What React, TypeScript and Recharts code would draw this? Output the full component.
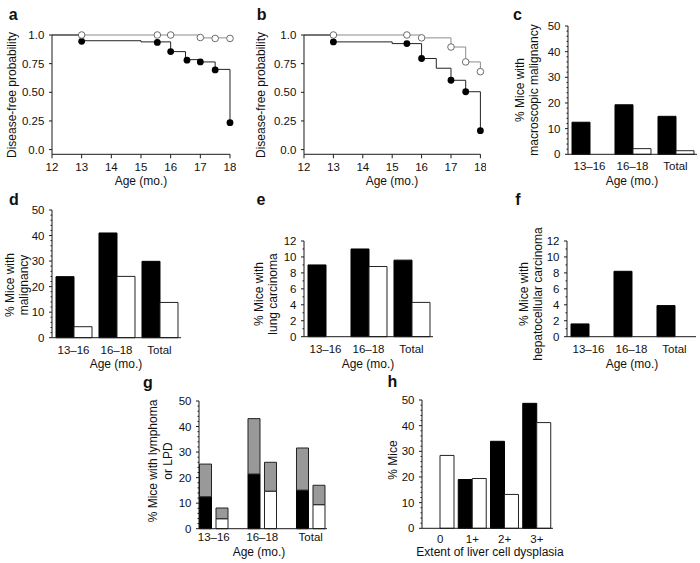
import React from 'react';
import { ComposedChart, Line, Scatter, XAxis, YAxis, BarChart, Bar } from 'recharts';

const FONT = '"Liberation Sans", Arial, sans-serif';
const INK = '#1a1a1a';

// a, b: disease-free probability (Kaplan-Meier steps + censor marks)
const ageTicks = [12, 13, 14, 15, 16, 17, 18];
const probTicks = [0, 0.25, 0.5, 0.75, 1];

const aBlackStepAge = [12, 13, 15, 16, 16.5, 17, 17.5, 18];
const aBlackStepP = [1, 0.95, 0.94, 0.855, 0.785, 0.765, 0.7, 0.235];
const aBlackDotAge = [13, 15.55, 16, 16.55, 17, 17.5, 18];
const aBlackDotP = [0.945, 0.935, 0.855, 0.78, 0.765, 0.695, 0.235];
const aWhiteStepAge = [12, 17, 18];
const aWhiteStepP = [1, 0.975, 0.97];
const aWhiteDotAge = [13, 15.55, 16, 17, 17.5, 18];
const aWhiteDotP = [1, 1, 1, 0.978, 0.97, 0.97];

const bBlackStepAge = [12, 13, 15, 16, 16.5, 17, 17.5, 18];
const bBlackStepP = [1, 0.94, 0.925, 0.795, 0.71, 0.605, 0.505, 0.165];
const bBlackDotAge = [13, 15.5, 16, 17, 17.5, 18];
const bBlackDotP = [0.94, 0.925, 0.795, 0.605, 0.505, 0.165];
const bWhiteStepAge = [12, 16, 17, 17.5, 18];
const bWhiteStepP = [1, 0.975, 0.895, 0.765, 0.68];
const bWhiteDotAge = [13, 15.5, 16, 17, 17.5, 18];
const bWhiteDotP = [1, 1, 0.975, 0.895, 0.765, 0.68];

// c-g: % mice by age group (black / white)
const ageCats = ['13–16', '16–18', 'Total'];
const cBlack = [12.5, 19.3, 14.8];
const cWhite = [0, 2.2, 1.4];
const dBlack = [23.9, 41, 29.9];
const dWhite = [4.3, 24, 13.8];
const eBlack = [9, 11, 9.6];
const eWhite = [0, 8.8, 4.3];
const fBlack = [1.6, 8.2, 3.9];
const fWhite = [0, 0, 0];
const gBlack = [12.5, 21.4, 15.1];
const gBlackLpd = [12.8, 21.7, 16.5];
const gWhite = [3.9, 14.7, 9.4];
const gWhiteLpd = [4.2, 11.3, 7.6];

// h: by extent of liver cell dysplasia
const hCats = ['0', '1+', '2+', '3+'];
const hBlack = [0, 19, 33.9, 48.7];
const hWhite = [28.4, 19.4, 13.2, 41.2];

const zip = (xs: number[], ys: number[]) => xs.map((age, i) => ({ age, p: ys[i] }));
const pairs = (cats: string[], black: number[], white: number[]) =>
  cats.map((cat, i) => ({ cat, black: black[i], white: white[i] }));

const YW = 50;
const MT = 10;
const XH = 30;
const TICK_FS = 11.5;
const tickStyle = { fontSize: TICK_FS, fill: '#111', fontFamily: FONT };

function Txt({ x, y, children, size = 12, bold = false, rotate = false, lh = 13.5 }: any) {
  return (
    <div
      style={{
        position: 'absolute',
        left: x,
        top: y,
        transform: `translate(-50%, -50%)${rotate ? ' rotate(-90deg)' : ''}`,
        whiteSpace: 'pre',
        textAlign: 'center',
        fontSize: size,
        lineHeight: `${lh}px`,
        fontWeight: bold ? 700 : 400,
        fontFamily: FONT,
        color: '#111',
      }}
    >
      {children}
    </div>
  );
}

const fmtProb = (v: number) => (v === 0 ? '0.0' : v === 1 ? '1.0' : v.toFixed(2));

const blackDot = (p: any) => <circle cx={p.cx} cy={p.cy} r={3.4} fill="#000" />;
const whiteDot = (p: any) => <circle cx={p.cx} cy={p.cy} r={3.3} fill="#fff" stroke="#6a6a6a" strokeWidth={1} />;

function KMPanel({ plotLeft, plotW, blackSteps, blackDots, whiteSteps, whiteDots }: any) {
  const plotTop = 34.7;
  const plotH = 119.3;
  return (
    <div style={{ position: 'absolute', left: plotLeft - YW, top: plotTop - MT }}>
      <ComposedChart width={plotW + YW + 6} height={plotH + MT + XH} margin={{ top: MT, right: 6, bottom: 0, left: 0 }}>
        <XAxis type="number" dataKey="age" domain={[12, 18]} ticks={ageTicks} interval={0} height={XH}
          tickSize={4} tickMargin={4.5} stroke={INK} tick={tickStyle} />
        <YAxis type="number" dataKey="p" domain={[-0.041, 1]} ticks={probTicks} interval={0} width={YW}
          tickSize={3} tickMargin={4.7} stroke={INK} tick={tickStyle} tickFormatter={fmtProb} />
        <Line data={whiteSteps} dataKey="p" type="stepAfter" stroke="#8c8c8c" strokeWidth={1} dot={false} isAnimationActive={false} />
        <Line data={blackSteps} dataKey="p" type="stepAfter" stroke="#222" strokeWidth={1} dot={false} isAnimationActive={false} />
        <Scatter data={blackDots} dataKey="p" shape={blackDot} isAnimationActive={false} />
        <Scatter data={whiteDots} dataKey="p" shape={whiteDot} isAnimationActive={false} />
      </ComposedChart>
    </div>
  );
}

function YTick({ y, payload, major }: any) {
  const v = payload.value;
  const isMajor = Math.abs(v / major - Math.round(v / major)) < 1e-6;
  return (
    <g>
      <line x1={YW - (isMajor ? 3 : 1.5)} x2={YW} y1={y} y2={y} stroke={INK} strokeWidth={1} />
      {isMajor && (
        <text x={YW - 7.5} y={y} dy="0.35em" textAnchor="end" fontSize={TICK_FS} fill="#111" fontFamily={FONT}>
          {v}
        </text>
      )}
    </g>
  );
}

function BarFrame({ plotLeft, plotTop, plotW, plotH, data, yMax, major, minor, tickGap = 8, padding, barSize, barGap = 0, children }: any) {
  const ticks: number[] = [];
  for (let v = 0; v <= yMax + 1e-9; v += minor) ticks.push(+v.toFixed(3));
  return (
    <div style={{ position: 'absolute', left: plotLeft - YW, top: plotTop - MT }}>
      <BarChart width={plotW + YW + 3} height={plotH + MT + XH} data={data}
        margin={{ top: MT, right: 3, bottom: 0, left: 0 }} barSize={barSize} barGap={barGap}>
        <XAxis dataKey="cat" height={XH} tickLine={false} tickSize={0} tickMargin={tickGap} stroke={INK}
          tick={tickStyle} interval={0} padding={padding} />
        <YAxis width={YW} domain={[0, yMax]} ticks={ticks} interval={0} tickLine={false} stroke={INK}
          tick={(p: any) => <YTick {...p} major={major} />} />
        {children}
      </BarChart>
    </div>
  );
}

const blackBar = { fill: '#000', stroke: '#000', strokeWidth: 1, isAnimationActive: false };
const whiteBar = { fill: '#fff', stroke: '#222', strokeWidth: 1, isAnimationActive: false };
const grayBar = { fill: '#999', stroke: '#222', strokeWidth: 1, isAnimationActive: false };

export default function App() {
  const gData = ageCats.map((cat, i) => ({
    cat, black: gBlack[i], blackLpd: gBlackLpd[i], white: gWhite[i], whiteLpd: gWhiteLpd[i],
  }));
  return (
    <div style={{ position: 'absolute', left: 0, top: 0, width: 700, height: 563, background: '#fff', overflow: 'hidden' }}>
      {/* a */}
      <KMPanel plotLeft={52} plotW={178}
        blackSteps={zip(aBlackStepAge, aBlackStepP)} blackDots={zip(aBlackDotAge, aBlackDotP)}
        whiteSteps={zip(aWhiteStepAge, aWhiteStepP)} whiteDots={zip(aWhiteDotAge, aWhiteDotP)} />
      <Txt x={13.3} y={14.5} size={16} bold>a</Txt>
      <Txt x={12.5} y={95} rotate>Disease-free probability</Txt>
      <Txt x={141} y={181.5}>Age (mo.)</Txt>

      {/* b */}
      <KMPanel plotLeft={304} plotW={176.4}
        blackSteps={zip(bBlackStepAge, bBlackStepP)} blackDots={zip(bBlackDotAge, bBlackDotP)}
        whiteSteps={zip(bWhiteStepAge, bWhiteStepP)} whiteDots={zip(bWhiteDotAge, bWhiteDotP)} />
      <Txt x={261.7} y={14.5} size={16} bold>b</Txt>
      <Txt x={261.5} y={95} rotate>Disease-free probability</Txt>
      <Txt x={392} y={181.5}>Age (mo.)</Txt>

      {/* c */}
      <BarFrame plotLeft={568} plotTop={25.7} plotW={129} plotH={128.3} data={pairs(ageCats, cBlack, cWhite)}
        yMax={50} major={10} minor={2} barSize={18}>
        <Bar dataKey="black" {...blackBar} />
        <Bar dataKey="white" {...whiteBar} />
      </BarFrame>
      <Txt x={517.5} y={14.5} size={16} bold>c</Txt>
      <Txt x={526.5} y={90} rotate>{'% Mice with\nmacroscopic malignancy'}</Txt>
      <Txt x={632} y={182}>Age (mo.)</Txt>

      {/* d */}
      <BarFrame plotLeft={52} plotTop={210} plotW={129} plotH={127.7} data={pairs(ageCats, dBlack, dWhite)}
        yMax={50} major={10} minor={2} barSize={18}>
        <Bar dataKey="black" {...blackBar} />
        <Bar dataKey="white" {...whiteBar} />
      </BarFrame>
      <Txt x={14} y={199.5} size={16} bold>d</Txt>
      <Txt x={17} y={285} rotate>{'% Mice with\nmalignancy'}</Txt>
      <Txt x={116} y={364.5}>Age (mo.)</Txt>

      {/* e */}
      <BarFrame plotLeft={304} plotTop={241} plotW={129} plotH={95.7} data={pairs(ageCats, eBlack, eWhite)}
        yMax={12} major={2} minor={1} barSize={18}>
        <Bar dataKey="black" {...blackBar} />
        <Bar dataKey="white" {...whiteBar} />
      </BarFrame>
      <Txt x={261} y={199.5} size={16} bold>e</Txt>
      <Txt x={266} y={294} rotate>{'% Mice with\nlung carcinoma'}</Txt>
      <Txt x={368} y={364.5}>Age (mo.)</Txt>

      {/* f */}
      <BarFrame plotLeft={567} plotTop={241} plotW={129} plotH={95.7} data={pairs(ageCats, fBlack, fWhite)}
        yMax={12} major={2} minor={1} barSize={18}>
        <Bar dataKey="black" {...blackBar} />
        <Bar dataKey="white" {...whiteBar} />
      </BarFrame>
      <Txt x={518} y={199.5} size={16} bold>f</Txt>
      <Txt x={531} y={294} rotate>{'% Mice with\nhepatocellular carcinoma'}</Txt>
      <Txt x={632} y={364.5}>Age (mo.)</Txt>

      {/* g */}
      <BarFrame plotLeft={199} plotTop={401} plotW={128} plotH={127.7} data={gData}
        yMax={50} major={10} minor={2} barSize={12} barGap={4.5} tickGap={4.5}
        padding={{ left: -9.5, right: -8 }}>
        <Bar dataKey="black" stackId="k" {...blackBar} />
        <Bar dataKey="blackLpd" stackId="k" {...grayBar} />
        <Bar dataKey="white" stackId="w" {...whiteBar} />
        <Bar dataKey="whiteLpd" stackId="w" {...grayBar} />
      </BarFrame>
      <Txt x={148} y={382.5} size={16} bold>g</Txt>
      <Txt x={161} y={461} rotate lh={15}>{'% Mice with lymphoma\nor LPD'}</Txt>
      <Txt x={259} y={553}>Age (mo.)</Txt>

      {/* h */}
      <BarFrame plotLeft={421.7} plotTop={400} plotW={131} plotH={128.3} data={pairs(hCats, hBlack, hWhite)}
        yMax={50} major={10} minor={2} barSize={14} tickGap={6.5} padding={{ left: 2, right: 0 }}>
        <Bar dataKey="black" {...blackBar} />
        <Bar dataKey="white" {...whiteBar} />
      </BarFrame>
      <Txt x={392.5} y={381.5} size={16} bold>h</Txt>
      <Txt x={394} y={460} rotate>% Mice</Txt>
      <Txt x={490} y={553}>Extent of liver cell dysplasia</Txt>
    </div>
  );
}
